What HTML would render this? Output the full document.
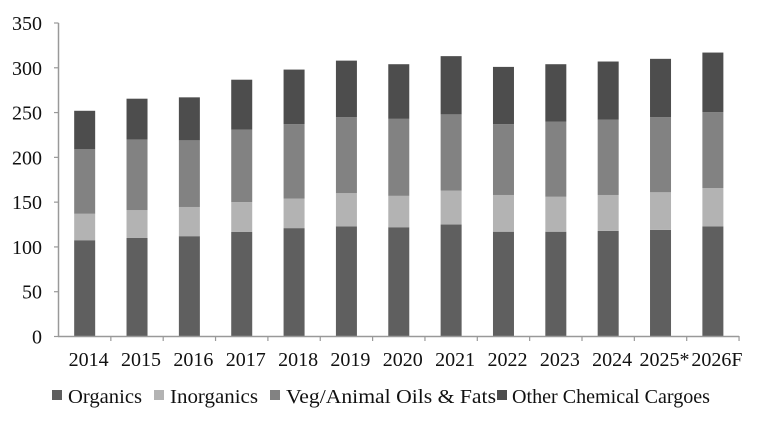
<!DOCTYPE html>
<html><head><meta charset="utf-8"><style>
body{margin:0;background:#fff;}
svg text{font-family:"Liberation Serif",serif;font-size:20px;fill:#111;}
</style></head><body>
<svg width="762" height="425" viewBox="0 0 762 425" xmlns="http://www.w3.org/2000/svg">
<g id="bars"></g>
<line x1="58.5" y1="23" x2="58.5" y2="337" stroke="#999" stroke-width="1.5"/>
<line x1="58" y1="336.5" x2="739" y2="336.5" stroke="#999" stroke-width="1.5"/>
<g id="ax"></g>
<g>
<rect x="52" y="390" width="10" height="10" fill="#5f5f5f"/><text x="68" y="403" textLength="74" lengthAdjust="spacingAndGlyphs">Organics</text>
<rect x="154" y="390" width="10" height="10" fill="#b3b3b3"/><text x="170" y="403" textLength="88" lengthAdjust="spacingAndGlyphs">Inorganics</text>
<rect x="270" y="390" width="10" height="10" fill="#828282"/><text x="286" y="403" textLength="210" lengthAdjust="spacingAndGlyphs">Veg/Animal Oils &amp; Fats</text>
<rect x="497" y="390" width="10" height="10" fill="#4d4d4d"/><text x="512" y="403" textLength="198" lengthAdjust="spacingAndGlyphs">Other Chemical Cargoes</text>
</g>
<script>
var d=[["2014",107.5,137,209,252],["2015",110,141,220,265.5],["2016",112,144.6,219,267],["2017",116.7,150,231,286.7],["2018",121,154,237,298],["2019",123,160,245,308],["2020",122,157,243,304],["2021",125,163,248,313],["2022",117,158,237,301],["2023",117,156,240,304],["2024",118,158,242,307],["2025*",119,161,245,310],["2026F",123,165.8,250.6,317]];
var cols=["#5f5f5f","#b3b3b3","#828282","#4d4d4d"];
var ns="http://www.w3.org/2000/svg",b=document.getElementById("bars"),ax=document.getElementById("ax");
function Y(v){return 336.5-v*0.8957;}
function el(p,t,a,txt){var e=document.createElementNS(ns,t);for(var k in a)e.setAttribute(k,a[k]);if(txt!=null)e.textContent=txt;p.appendChild(e);return e;}
var band=52.35;
d.forEach(function(r,i){var cx=58.5+band*(i+0.5);var prev=0;
for(var j=0;j<4;j++){el(b,"rect",{x:cx-10.5,y:Y(r[j+1]),width:21,height:Y(prev)-Y(r[j+1]),fill:cols[j]});prev=r[j+1];}
el(ax,"text",{x:cx+4,y:366,"text-anchor":"middle"},r[0]);
el(ax,"line",{x1:58.5+band*(i+1),y1:336,x2:58.5+band*(i+1),y2:341,stroke:"#999","stroke-width":1.2});
});
for(var v=0;v<=350;v+=50){el(ax,"text",{x:42,y:Y(v)+7,"text-anchor":"end"},String(v));el(ax,"line",{x1:54,y1:Y(v),x2:58.5,y2:Y(v),stroke:"#999","stroke-width":1.2});}
</script>
</svg>
</body></html>
